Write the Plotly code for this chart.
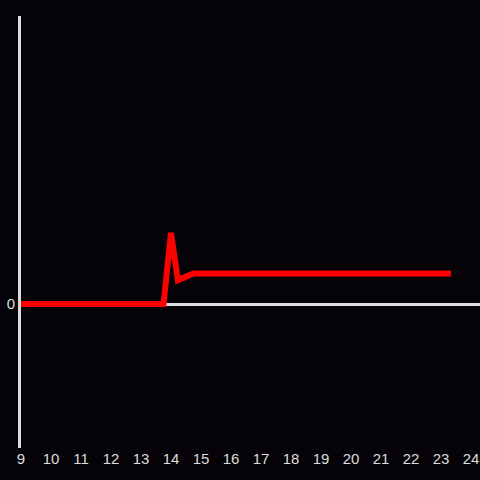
import plotly.graph_objects as go

# series
x_vals = [9, 13.75, 14.0, 14.23, 14.75, 23.33]
y_vals = [0, 0, 24.7, 8.3, 10.6, 10.6]

x_ticks = list(range(9, 25))

fig = go.Figure()
fig.add_trace(go.Scatter(
    x=x_vals,
    y=y_vals,
    mode="lines",
    line=dict(color="#ff0000", width=6),
    hoverinfo="skip",
))

fig.update_layout(
    width=480,
    height=480,
    paper_bgcolor="#050307",
    plot_bgcolor="#050307",
    margin=dict(l=21, r=0, t=16, b=32),
    showlegend=False,
    font=dict(family="Liberation Sans, Arial", size=15, color="#dddddd"),
    xaxis=dict(
        range=[9, 24.3],
        tickvals=x_ticks,
        showgrid=False,
        zeroline=False,
        showline=False,
        ticks="",
    ),
    yaxis=dict(
        range=[-50, 100],
        tickvals=[0],
        showgrid=False,
        zeroline=True,
        zerolinecolor="#dddddd",
        zerolinewidth=3,
        showline=True,
        linecolor="#dddddd",
        linewidth=3,
        ticks="",
    ),
)

fig.write_html(
    "out.html",
    config={"displayModeBar": False},
    post_script="document.body.style.margin='0';document.body.style.background='#050307';",
)
